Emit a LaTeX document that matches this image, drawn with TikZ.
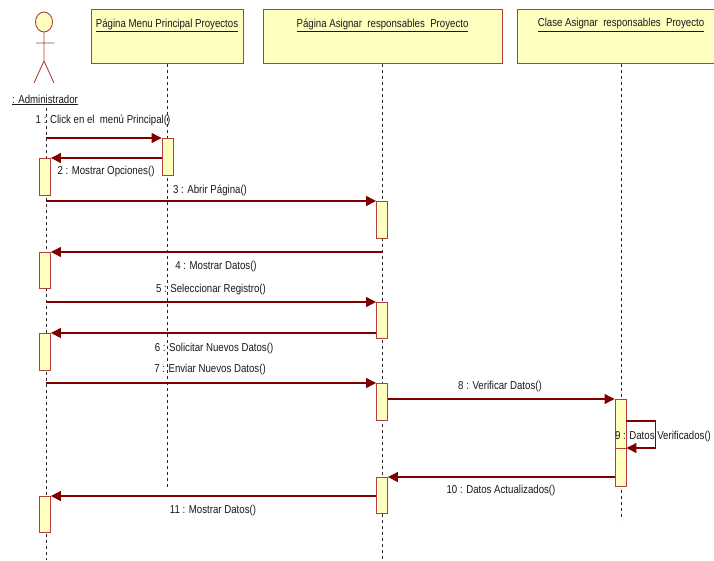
\documentclass[tikz,border=0pt]{standalone}
\usepackage{fontspec}
\setmainfont{Liberation Sans}[FakeStretch=0.84]
\usetikzlibrary{arrows.meta}
\definecolor{umlred}{HTML}{800000}
\definecolor{umlborder}{HTML}{B04040}
\definecolor{umlfill}{HTML}{FFFFC0}
\begin{document}
\begin{tikzpicture}[x=1pt,y=-1pt,
        obj/.style={draw=umlborder,fill=umlfill,line width=1pt,minimum height=54pt,anchor=north,inner sep=0pt},
        act/.style={draw=umlborder,fill=umlfill,line width=0.9pt,minimum width=11pt,anchor=north,inner sep=0pt},
        life/.style={dash pattern=on 3pt off 3pt,black!85,line width=0.6pt},
        msg/.style={umlred,line width=1.2pt,-{Triangle[length=10pt,width=10pt]}},
        lbl/.style={font=\fontsize{11.5}{13}\selectfont,text=black!90,inner sep=0pt}]
    \clip (0,0) rectangle (714,560);
    \fill[white] (0,0) rectangle (714,560);
    %% actor
    \draw[umlborder,line width=0.9pt,fill=umlfill] (44,22) ellipse (8.5pt and 10pt);
    \draw[umlborder,line width=0.9pt] (44,32) -- (44,61) (36,43) -- (54,43)
        (34,83) -- (44,61) -- (54,83);
    \node[lbl] (admin) at (45,100) {\underline{: Administrador}};
    %% objects
    \node[obj,minimum width=152pt] (menu) at (167,9) {};
    \node[lbl] (menut) at (167,25) {\underline{Página Menu Principal Proyectos}};
    \node[obj,minimum width=239pt] (asig) at (382.5,9) {};
    \node[lbl] (asigt) at (382.5,25) {\underline{Página Asignar~ responsables~ Proyecto}};
    \node[obj,minimum width=208pt] (clase) at (621,9) {};
    \node[lbl] (claset) at (621,25) {\underline{Clase Asignar~ responsables~ Proyecto}};
    %% lifelines
    \coordinate (l0) at (46,108);
    \draw[life] (l0) -- (46,560);
    \draw[life] (menu.south) -- (menu.south |- 0,487);
    \draw[life] (asig.south) -- (asig.south |- 0,560);
    \draw[life] (clase.south) -- (clase.south |- 0,520);
    %% activations
    \node[act,minimum height=37pt] (a1) at (167.5,138) {};
    \node[act,minimum height=37pt] (b2) at (45,158) {};
    \node[act,minimum height=37pt] (a3) at (382,201) {};
    \node[act,minimum height=36pt] (b4) at (45,252) {};
    \node[act,minimum height=36pt] (a5) at (382,302) {};
    \node[act,minimum height=37pt] (b6) at (45,333) {};
    \node[act,minimum height=37pt] (a7) at (382,383) {};
    \node[act,minimum height=87pt] (c8) at (620.5,399) {};
    \node[act,minimum height=38pt] (c9) at (620.5,448) {};
    \node[act,minimum height=36pt] (a10) at (382,477) {};
    \node[act,minimum height=36pt] (b11) at (45,496) {};
    %% messages
    \draw[msg] (l0 |- a1.north) -- (a1.north west);
    \draw[msg] (a1.west |- b2.north) -- (b2.north east);
    \draw[msg] (l0 |- a3.north) -- (a3.north west);
    \draw[msg] (asig.south |- b4.north) -- (b4.north east);
    \draw[msg] (l0 |- a5.north) -- (a5.north west);
    \draw[msg] (a5.west |- b6.north) -- (b6.north east);
    \draw[msg] (l0 |- a7.north) -- (a7.north west);
    \draw[msg] (a7.east |- c8.north) -- (c8.north west);
    \draw[msg] (c8.north east) ++(0,22) -- ++(29,0) |- (c9.north east);
    \draw[msg] (c8.west |- a10.north) -- (a10.north east);
    \draw[msg] (a10.west |- b11.north) -- (b11.north east);
    %% message labels
    \node[lbl] (m1) at (103,120) {1 : Click en el~ menú Principal()};
    \node[lbl] (m2) at (106,172) {2 : Mostrar Opciones()};
    \node[lbl] (m3) at (210,190) {3 : Abrir Página()};
    \node[lbl] (m4) at (216,267) {4 : Mostrar Datos()};
    \node[lbl] (m5) at (211,290) {5 : Seleccionar Registro()};
    \node[lbl] (m6) at (214,349) {6 : Solicitar Nuevos Datos()};
    \node[lbl] (m7) at (210,370) {7 : Enviar Nuevos Datos()};
    \node[lbl] (m8) at (500,387) {8 : Verificar Datos()};
    \node[lbl] (m9) at (663,437) {9 : Datos Verificados()};
    \node[lbl] (m10) at (501,491) {10 : Datos Actualizados()};
    \node[lbl] (m11) at (213,511) {11 : Mostrar Datos()};
\end{tikzpicture}
\end{document}
